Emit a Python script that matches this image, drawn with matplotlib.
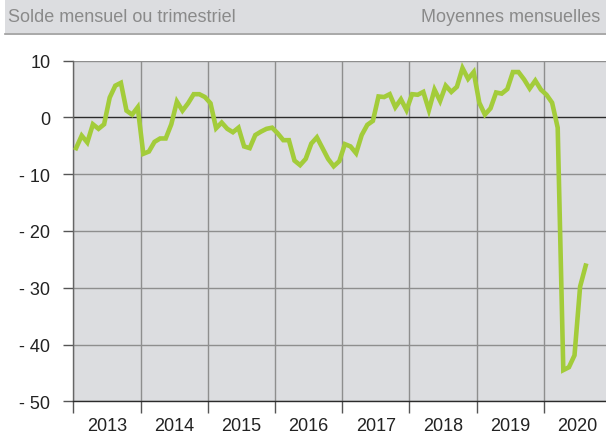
import matplotlib

matplotlib.use("Agg")
import matplotlib.pyplot as plt
from matplotlib.patches import Rectangle
from matplotlib.ticker import FixedLocator, FuncFormatter

plt.rcParams["font.family"] = ["Liberation Sans", "DejaVu Sans"]

# monthly balance, Jan 2013 .. Aug 2020
solde = [
    -5.4, -3.2, -4.4, -1.2, -2.0, -1.2, 3.5, 5.6, 6.1, 1.2, 0.5, 1.8,
    -6.4, -6.0, -4.3, -3.7, -3.7, -1.2, 2.8, 1.2, 2.5, 4.1, 4.1, 3.6,
    2.5, -1.9, -0.9, -2.0, -2.6, -1.8, -5.1, -5.4, -3.1, -2.5, -2.0, -1.8,
    -2.8, -4.0, -4.0, -7.6, -8.4, -7.3, -4.6, -3.5, -5.4, -7.3, -8.6, -7.7,
    -4.7, -5.1, -6.3, -3.1, -1.3, -0.6, 3.7, 3.6, 4.1, 1.8, 3.2, 1.3,
    4.1, 4.0, 4.5, 1.3, 4.9, 2.9, 5.6, 4.5, 5.4, 8.7, 6.8, 8.0,
    2.6, 0.5, 1.6, 4.4, 4.2, 5.0, 8.0, 8.0, 6.7, 5.1, 6.5, 4.9,
    4.0, 2.6, -1.8, -44.5, -44.0, -41.9, -29.8, -26.1,
]
years = [2013, 2014, 2015, 2016, 2017, 2018, 2019, 2020]
yticks = [10, 0, -10, -20, -30, -40, -50]

header_left = "Solde mensuel ou trimestriel"
header_right = "Moyennes mensuelles"

GREEN = "#a3cc3a"
BG = "#dcdde0"
GRID = "#8e8e8e"
DARK = "#2b2b2b"

fig = plt.figure(figsize=(6.06, 4.35), dpi=100)

# header band
fig.patches.append(Rectangle((5 / 606, 1 - 34 / 435), 1, 34 / 435,
                             transform=fig.transFigure, facecolor=BG,
                             edgecolor="none", zorder=0))
fig.add_artist(plt.Line2D([5 / 606, 1], [1 - 34.5 / 435] * 2,
                          transform=fig.transFigure, color="#9a9a9a", lw=1.2))
fig.text(8 / 606, 1 - 18 / 435, header_left, ha="left", va="center",
         fontsize=13, color="#8a8a8a")
fig.text(600 / 606, 1 - 18 / 435, header_right, ha="right", va="center",
         fontsize=13, color="#8a8a8a")

ax = fig.add_axes([73.3 / 606, 1 - 402.3 / 435, (606 - 73.3) / 606,
                   (402.3 - 61.7) / 435])
ax.set_facecolor(BG)

x = [i + 0.5 for i in range(len(solde))]
ax.plot(x, solde, color=GREEN, lw=3.3, solid_joinstyle="miter", zorder=5)

ax.set_xlim(0, (606 - 73.3) / 5.6)
ax.set_ylim(-50, 10)

# year boundaries and mid-year labels
bounds = [12 * k for k in range(len(years))]
ax.xaxis.set_major_locator(FixedLocator(bounds))
ax.xaxis.set_minor_locator(FixedLocator([b + 6 for b in bounds]))
ax.xaxis.set_major_formatter(FuncFormatter(lambda v, p: ""))
ax.xaxis.set_minor_formatter(
    FuncFormatter(lambda v, p: str(years[int(v // 12)]) if 0 <= v // 12 < len(years) else ""))
ax.tick_params(axis="x", which="major", direction="out", length=8.6,
               width=1, color="#555555")
ax.tick_params(axis="x", which="minor", length=0, pad=11, labelsize=13,
               labelcolor="#222222")

ax.yaxis.set_major_locator(FixedLocator(yticks))
ax.yaxis.set_major_formatter(
    FuncFormatter(lambda v, p: f"- {abs(int(v))}" if v < 0 else f"{int(v)}"))
ax.tick_params(axis="y", direction="out", length=7.5, width=1, color="#555555",
               pad=9, labelsize=13, labelcolor="#222222")

for b in bounds:
    ax.axvline(b, color=GRID, lw=1, zorder=1)
for v in yticks:
    if v != 0:
        ax.axhline(v, color=GRID, lw=1, zorder=1)
ax.axhline(0, color=DARK, lw=1, zorder=2)

for side in ("top", "right"):
    ax.spines[side].set_visible(False)
ax.spines["left"].set_color("#666666")
ax.spines["bottom"].set_color(DARK)
ax.spines["left"].set_linewidth(1)
ax.spines["bottom"].set_linewidth(1)

fig.savefig("out.png", dpi=100)
